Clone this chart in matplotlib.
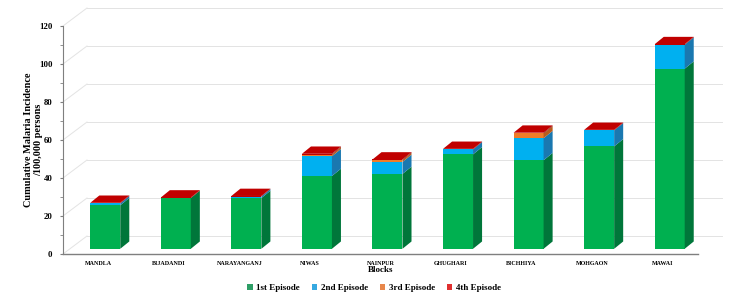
import matplotlib
matplotlib.use("Agg")
import matplotlib.pyplot as plt
from matplotlib.patches import Polygon, Patch

plt.rcParams['font.family'] = ['Liberation Serif', 'DejaVu Serif']
plt.rcParams['font.weight'] = 'bold'

blocks = ["MANDLA", "BIJADANDI", "NARAYANGANJ", "NIWAS", "NAINPUR",
          "GHUGHARI", "BICHHIYA", "MOHGAON", "MAWAI"]
ep1 = [22.9, 26.7, 26.7, 38.3, 39.4, 49.7, 46.6, 53.9, 94.8]
ep2 = [1.0, 0.0, 0.8, 10.4, 6.3, 2.6, 11.6, 8.4, 12.6]
ep3 = [0.0, 0.0, 0.0, 0.9, 0.9, 0.0, 2.5, 0.0, 0.0]
ep4 = [0.3, 0.3, 0.3, 0.4, 0.4, 0.3, 0.4, 0.3, 0.3]
series = ["1st Episode", "2nd Episode", "3rd Episode", "4th Episode"]

front = ["#00B050", "#00B0F0", "#F07C28", "#C00000"]
side = ["#00763A", "#1A78B0", "#B85C1C", "#8C0000"]
legend_col = ["#2E9E66", "#36A9E1", "#E8874B", "#E03030"]

# oblique projection offsets (data units)
wall_dx, wall_dy = 0.34, 9.47     # back wall
bar_dx, bar_dy = 0.099, 2.74      # bar front plane
depth_dx, depth_dy = 0.128, 3.85  # bar depth
bar_w = 0.425

fig = plt.figure(figsize=(7.45, 2.98), dpi=100)
ax = fig.add_axes([63 / 745, 44 / 298, 635 / 745, 228 / 298])
ax.set_xlim(0, len(blocks))
ax.set_ylim(0, 120)

# back wall gridlines + side wall diagonals
for v in range(0, 121, 20):
    ax.plot([wall_dx, len(blocks) + wall_dx], [v + wall_dy, v + wall_dy],
            color="#E3E3E3", lw=0.7, clip_on=False, zorder=1)
    ax.plot([0, wall_dx], [v, v + wall_dy], color="#E3E3E3", lw=0.7,
            clip_on=False, zorder=1)

data = [ep1, ep2, ep3, ep4]
for i in range(len(blocks)):
    x0 = i + 0.5 - bar_w / 2 + bar_dx
    x1 = x0 + bar_w
    base = bar_dy
    for s in range(4):
        v = data[s][i]
        if v <= 0:
            continue
        top = base + v
        ax.add_patch(Polygon([(x0, base), (x1, base), (x1, top), (x0, top)],
                             closed=True, fc=front[s], ec="none", zorder=3,
                             clip_on=False))
        ax.add_patch(Polygon([(x1, base), (x1 + depth_dx, base + depth_dy),
                              (x1 + depth_dx, top + depth_dy), (x1, top)],
                             closed=True, fc=side[s], ec="none", zorder=3,
                             clip_on=False))
        base = top
        last = s
    ax.add_patch(Polygon([(x0, base), (x1, base),
                          (x1 + depth_dx, base + depth_dy),
                          (x0 + depth_dx, base + depth_dy)],
                         closed=True, fc=front[last], ec="none", zorder=3,
                         clip_on=False))

for sp in ["top", "right"]:
    ax.spines[sp].set_visible(False)
ax.spines["left"].set_color("#7F7F7F")
ax.spines["bottom"].set_color("#7F7F7F")
ax.spines["left"].set_linewidth(0.8)
ax.spines["bottom"].set_linewidth(1.0)

ax.set_yticks(range(0, 121, 20))
ax.set_yticks(range(0, 121, 10), minor=True)
ax.tick_params(axis="y", which="both", length=2.5, color="#7F7F7F",
               labelsize=6.3, pad=5)
ax.set_xticks([i + 0.5 for i in range(len(blocks))])
ax.set_xticklabels(blocks, fontsize=4.3)
ax.tick_params(axis="x", length=0, pad=5)
for lab in ax.get_yticklabels() + ax.get_xticklabels():
    lab.set_fontweight("bold")

fig.text(381 / 745, 1 - 270.5 / 298, "Blocks", ha="center", va="center",
         fontsize=6.5, fontweight="bold")
fig.text(34 / 745, 1 - 140 / 298,
         "Cumulative Malaria Incidence\n/100,000 persons",
         rotation=90, ha="center", va="center", fontsize=7.4,
         fontweight="bold", linespacing=1.15)

handles = [Patch(fc=c, ec="none") for c in legend_col]
fig.legend(handles, series, loc="center", ncol=4,
           bbox_to_anchor=(374 / 745, 1 - 288 / 298), frameon=False,
           handlelength=0.6, handleheight=0.6, handletextpad=0.4,
           columnspacing=1.3, prop={"size": 6.5, "weight": "bold"})

fig.savefig("out.png", dpi=100, facecolor="white")
